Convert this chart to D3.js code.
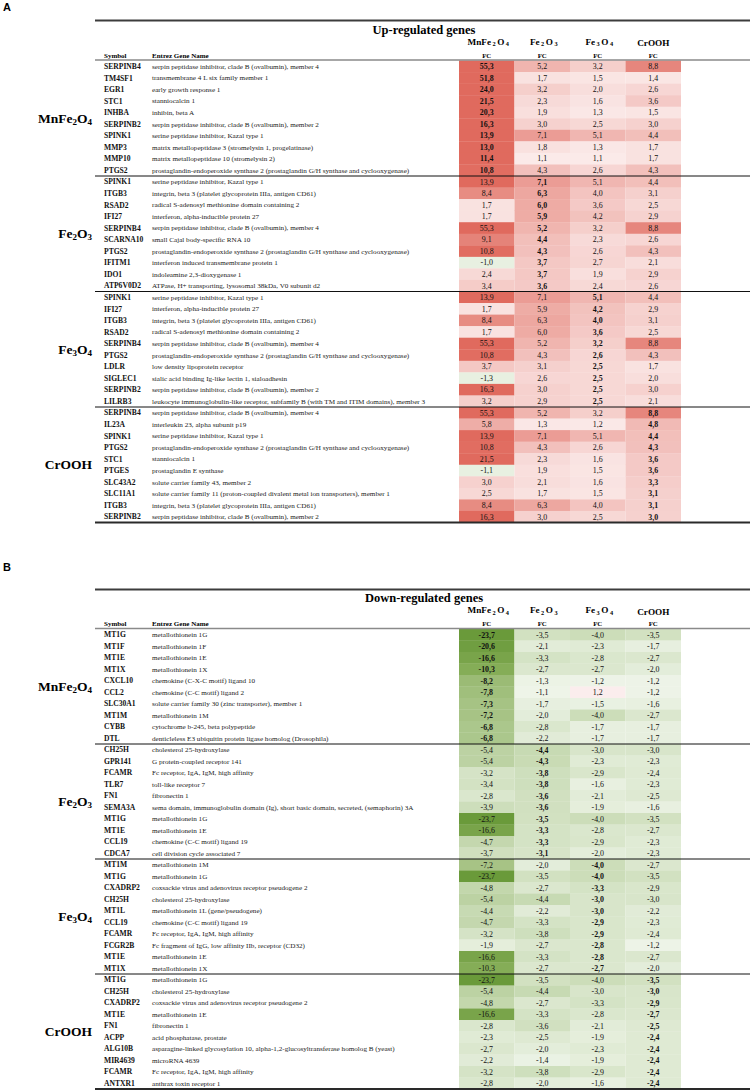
<!DOCTYPE html>
<html><head><meta charset="utf-8">
<script src="https://cdn.jsdelivr.net/npm/d3@7"></script>
<style>body{margin:0;background:#fff}svg{display:block}</style>
</head><body>
<script>
// ---------- DATA ----------
const compounds = ["MnFe2O4","Fe2O3","Fe3O4","CrOOH"];
const compoundParts = [[["MnFe",0],["2",1],["O",0],["4",1]],[["Fe",0],["2",1],["O",0],["3",1]],[["Fe",0],["3",1],["O",0],["4",1]],[["CrOOH",0]]];
const groupLabels = ["MnFe2O4","Fe2O3","Fe3O4","CrOOH"];
const groupSize = 10;

const geneNames = {
 SERPINB4:"serpin peptidase inhibitor, clade B (ovalbumin), member 4",
 TM4SF1:"transmembrane 4 L six family member 1",
 EGR1:"early growth response 1",
 STC1:"stanniocalcin 1",
 INHBA:"inhibin, beta A",
 SERPINB2:"serpin peptidase inhibitor, clade B (ovalbumin), member 2",
 SPINK1:"serine peptidase inhibitor, Kazal type 1",
 MMP3:"matrix metallopeptidase 3 (stromelysin 1, progelatinase)",
 MMP10:"matrix metallopeptidase 10 (stromelysin 2)",
 PTGS2:"prostaglandin-endoperoxide synthase 2 (prostaglandin G/H synthase and cyclooxygenase)",
 ITGB3:"integrin, beta 3 (platelet glycoprotein IIIa, antigen CD61)",
 RSAD2:"radical S-adenosyl methionine domain containing 2",
 IFI27:"interferon, alpha-inducible protein 27",
 SCARNA10:"small Cajal body-specific RNA 10",
 IFITM1:"interferon induced transmembrane protein 1",
 IDO1:"indoleamine 2,3-dioxygenase 1",
 ATP6V0D2:"ATPase, H+ transporting, lysosomal 38kDa, V0 subunit d2",
 LDLR:"low density lipoprotein receptor",
 SIGLEC1:"sialic acid binding Ig-like lectin 1, sialoadhesin",
 LILRB3:"leukocyte immunoglobulin-like receptor, subfamily B (with TM and ITIM domains), member 3",
 IL23A:"interleukin 23, alpha subunit p19",
 PTGES:"prostaglandin E synthase",
 SLC43A2:"solute carrier family 43, member 2",
 SLC11A1:"solute carrier family 11 (proton-coupled divalent metal ion transporters), member 1",
 MT1G:"metallothionein 1G",
 MT1F:"metallothionein 1F",
 MT1E:"metallothionein 1E",
 MT1X:"metallothionein 1X",
 CXCL10:"chemokine (C-X-C motif) ligand 10",
 CCL2:"chemokine (C-C motif) ligand 2",
 SLC30A1:"solute carrier family 30 (zinc transporter), member 1",
 MT1M:"metallothionein 1M",
 CYBB:"cytochrome b-245, beta polypeptide",
 DTL:"denticleless E3 ubiquitin protein ligase homolog (Drosophila)",
 CH25H:"cholesterol 25-hydroxylase",
 GPR141:"G protein-coupled receptor 141",
 FCAMR:"Fc receptor, IgA, IgM, high affinity",
 TLR7:"toll-like receptor 7",
 FN1:"fibronectin 1",
 SEMA3A:"sema domain, immunoglobulin domain (Ig), short basic domain, secreted, (semaphorin) 3A",
 CCL19:"chemokine (C-C motif) ligand 19",
 CDCA7:"cell division cycle associated 7",
 CXADRP2:"coxsackie virus and adenovirus receptor pseudogene 2",
 MT1L:"metallothionein 1L (gene/pseudogene)",
 FCGR2B:"Fc fragment of IgG, low affinity IIb, receptor (CD32)",
 ACPP:"acid phosphatase, prostate",
 ALG10B:"asparagine-linked glycosylation 10, alpha-1,2-glucosyltransferase homolog B (yeast)",
 MIR4639:"microRNA 4639",
 ANTXR1:"anthrax toxin receptor 1"
};

const upSymbols = ["SERPINB4","TM4SF1","EGR1","STC1","INHBA","SERPINB2","SPINK1","MMP3","MMP10","PTGS2",
 "SPINK1","ITGB3","RSAD2","IFI27","SERPINB4","SCARNA10","PTGS2","IFITM1","IDO1","ATP6V0D2",
 "SPINK1","IFI27","ITGB3","RSAD2","SERPINB4","PTGS2","LDLR","SIGLEC1","SERPINB2","LILRB3",
 "SERPINB4","IL23A","SPINK1","PTGS2","STC1","PTGES","SLC43A2","SLC11A1","ITGB3","SERPINB2"];
const upMnFe2O4 = [55.3,51.8,24.0,21.5,20.3,16.3,13.9,13.0,11.4,10.8, 13.9,8.4,1.7,1.7,55.3,9.1,10.8,-1.0,2.4,3.4, 13.9,1.7,8.4,1.7,55.3,10.8,3.7,-1.3,16.3,3.2, 55.3,5.8,13.9,10.8,21.5,-1.1,3.0,2.5,8.4,16.3];
const upFe2O3   = [5.2,1.7,3.2,2.3,1.9,3.0,7.1,1.8,1.1,4.3, 7.1,6.3,6.0,5.9,5.2,4.4,4.3,3.7,3.7,3.6, 7.1,5.9,6.3,6.0,5.2,4.3,3.1,2.6,3.0,2.9, 5.2,1.3,7.1,4.3,2.3,1.9,2.1,1.7,6.3,3.0];
const upFe3O4   = [3.2,1.5,2.0,1.6,1.3,2.5,5.1,1.3,1.1,2.6, 5.1,4.0,3.6,4.2,3.2,2.3,2.6,2.7,1.9,2.4, 5.1,4.2,4.0,3.6,3.2,2.6,2.5,2.5,2.5,2.5, 3.2,1.2,5.1,2.6,1.6,1.5,1.6,1.5,4.0,2.5];
const upCrOOH   = [8.8,1.4,2.6,3.6,1.5,3.0,4.4,1.7,1.7,4.3, 4.4,3.1,2.5,2.9,8.8,2.6,4.3,2.1,2.9,2.6, 4.4,2.9,3.1,2.5,8.8,4.3,1.7,2.0,3.0,2.1, 8.8,4.8,4.4,4.3,3.6,3.6,3.3,3.1,3.1,3.0];

const downSymbols = ["MT1G","MT1F","MT1E","MT1X","CXCL10","CCL2","SLC30A1","MT1M","CYBB","DTL",
 "CH25H","GPR141","FCAMR","TLR7","FN1","SEMA3A","MT1G","MT1E","CCL19","CDCA7",
 "MT1M","MT1G","CXADRP2","CH25H","MT1L","CCL19","FCAMR","FCGR2B","MT1E","MT1X",
 "MT1G","CH25H","CXADRP2","MT1E","FN1","ACPP","ALG10B","MIR4639","FCAMR","ANTXR1"];
const downMnFe2O4 = [-23.7,-20.6,-16.6,-10.3,-8.2,-7.8,-7.3,-7.2,-6.8,-6.8, -5.4,-5.4,-3.2,-3.4,-2.8,-3.9,-23.7,-16.6,-4.7,-3.7, -7.2,-23.7,-4.8,-5.4,-4.4,-4.7,-3.2,-1.9,-16.6,-10.3, -23.7,-5.4,-4.8,-16.6,-2.8,-2.3,-2.7,-2.2,-3.2,-2.8];
const downFe2O3   = [-3.5,-2.1,-3.3,-2.7,-1.3,-1.1,-1.7,-2.0,-2.8,-2.2, -4.4,-4.3,-3.8,-3.8,-3.6,-3.6,-3.5,-3.3,-3.3,-3.1, -2.0,-3.5,-2.7,-4.4,-2.2,-3.3,-3.8,-2.7,-3.3,-2.7, -3.5,-4.4,-2.7,-3.3,-3.6,-2.5,-2.0,-1.4,-3.8,-2.0];
const downFe3O4   = [-4.0,-2.3,-2.8,-2.7,-1.2,1.2,-1.5,-4.0,-1.7,-1.7, -3.0,-2.3,-2.9,-1.6,-2.1,-1.9,-4.0,-2.8,-2.9,-2.0, -4.0,-4.0,-3.3,-3.0,-3.0,-2.9,-2.9,-2.8,-2.8,-2.7, -4.0,-3.0,-3.3,-2.8,-2.1,-1.9,-2.3,-1.9,-2.9,-1.6];
const downCrOOH   = [-3.5,-1.7,-2.7,-2.0,-1.2,-1.2,-1.6,-2.7,-1.7,-1.7, -3.0,-2.3,-2.4,-2.3,-2.5,-1.6,-3.5,-2.7,-2.3,-2.3, -2.7,-3.5,-2.9,-3.0,-2.2,-2.3,-2.4,-1.2,-2.7,-2.0, -3.5,-3.0,-2.9,-2.7,-2.5,-2.4,-2.4,-2.4,-2.4,-2.4];

// ---------- DRAW ----------
const W = 750, H = 1091;
const svg = d3.select("body").append("svg").attr("width", W).attr("height", H);
const serif = "'Liberation Serif', 'DejaVu Serif', serif";

const upRed = d3.scaleLinear().domain([1, 11]).range(["#fbebea", "#e06a5e"]).clamp(true);
const downGreen = d3.scaleLinear().domain([-23.7, -10, -1]).range(["#6a9a3a", "#86ad58", "#eff5ea"]).clamp(true);
function upColor(v){ return v < 0 ? "#e8f0e1" : upRed(v); }
function downColor(v){ return v > 0 ? "#fbeded" : downGreen(v); }
const fmt = v => v.toFixed(1).replace(".", ",");

function drawTable(cfg){
  const g = svg.append("g");
  const x = d3.scaleBand().domain(compounds).range([459, 681]);
  const nRows = cfg.symbols.length;
  const y = d3.scaleBand().domain(d3.range(nRows)).range([cfg.rowTop, cfg.rowTop + nRows * cfg.rowH]);
  const cols = [cfg.v0, cfg.v1, cfg.v2, cfg.v3];

  // panel letter
  g.append("text").attr("x", 3).attr("y", cfg.letterY).attr("font-family", "'Liberation Sans', Arial, sans-serif")
    .attr("font-weight", "bold").attr("font-size", 11).text(cfg.letter);

  // cells
  const cells = [];
  cols.forEach((arr, ci) => arr.forEach((v, ri) => cells.push({ci, ri, v})));
  g.selectAll("rect.cell").data(cells).join("rect").attr("class", "cell")
    .attr("x", d => x(compounds[d.ci])).attr("y", d => y(d.ri))
    .attr("width", x.bandwidth()).attr("height", y.bandwidth() + 0.3)
    .attr("fill", d => cfg.color(d.v));
  g.selectAll("text.val").data(cells).join("text").attr("class", "val")
    .attr("x", d => x(compounds[d.ci]) + x.bandwidth() / 2)
    .attr("y", d => y(d.ri) + y.bandwidth() / 2 + 2.8)
    .attr("text-anchor", "middle").attr("font-family", serif).attr("font-size", 7.9)
    .attr("font-weight", d => Math.floor(d.ri / groupSize) === d.ci ? "bold" : "normal")
    .attr("fill", "#111").text(d => fmt(d.v));

  // symbols & names
  g.selectAll("text.sym").data(cfg.symbols).join("text").attr("class", "sym")
    .attr("x", 104).attr("y", (d, i) => y(i) + y.bandwidth() / 2 + 2.7)
    .attr("font-family", serif).attr("font-weight", "bold").attr("font-size", 7.6).attr("fill", "#111").text(d => d);
  g.selectAll("text.nm").data(cfg.symbols).join("text").attr("class", "nm")
    .attr("x", 152).attr("y", (d, i) => y(i) + y.bandwidth() / 2 + 2.5)
    .attr("font-family", serif).attr("font-size", 7.15).attr("fill", "#222").text(d => geneNames[d]);

  // headers
  g.append("text").attr("x", 424).attr("y", cfg.titleY).attr("text-anchor", "middle")
    .attr("font-family", serif).attr("font-weight", "bold").attr("font-size", 12.5).text(cfg.title);
  compounds.forEach((c, ci) => {
    const t = g.append("text").attr("x", x(c) + x.bandwidth() / 2).attr("y", cfg.compY).attr("text-anchor", "middle")
      .attr("font-family", serif).attr("font-weight", "bold").attr("font-size", 9.2);
    compoundParts[ci].forEach(([s, sub]) => {
      if (sub) t.append("tspan").attr("font-size", 6.3).attr("dx", 1.5).attr("dy", 1.5).text(s);
      else t.append("tspan").attr("dx", ci === 3 ? 0 : 1.5).attr("dy", ci === 3 ? 0 : -1.5).text(s);
    });
    g.append("text").attr("x", x(c) + x.bandwidth() / 2).attr("y", cfg.fcY).attr("text-anchor", "middle")
      .attr("font-family", serif).attr("font-weight", "bold").attr("font-size", 6.8).text("FC");
  });
  g.append("text").attr("x", 104).attr("y", cfg.fcY).attr("font-family", serif).attr("font-weight", "bold").attr("font-size", 7).text("Symbol");
  g.append("text").attr("x", 152).attr("y", cfg.fcY).attr("font-family", serif).attr("font-weight", "bold").attr("font-size", 7).text("Entrez Gene Name");

  // group labels
  groupLabels.forEach((lab, gi) => {
    const cy = y(gi * groupSize) + y.bandwidth() * groupSize / 2;
    const t = g.append("text").attr("x", 92).attr("y", cy + 4.5).attr("text-anchor", "end")
      .attr("font-family", serif).attr("font-weight", "bold").attr("font-size", 13.5);
    const parts = compoundParts[compounds.indexOf(lab)];
    parts.forEach(([s, sub], k) => {
      if (sub) t.append("tspan").attr("font-size", 9).attr("dy", 2.2).text(s);
      else t.append("tspan").attr("dy", k === 0 ? 0 : -2.2).text(s);
    });
  });

  // rules
  const x0 = 95, x1 = 750;
  g.append("line").attr("x1", x0).attr("x2", x1).attr("y1", cfg.topLine).attr("y2", cfg.topLine).attr("stroke", "#3c3c3c").attr("stroke-width", 2);
  g.append("line").attr("x1", x0).attr("x2", x1).attr("y1", cfg.rowTop - 0.5).attr("y2", cfg.rowTop - 0.5).attr("stroke", "#8a8a8a").attr("stroke-width", 1.6);
  for (let gi = 1; gi < groupLabels.length; gi++) {
    const yy = y(gi * groupSize);
    g.append("line").attr("x1", x0).attr("x2", x1).attr("y1", yy).attr("y2", yy).attr("stroke", "#111").attr("stroke-width", 1);
  }
  const yb = cfg.rowTop + nRows * cfg.rowH;
  g.append("line").attr("x1", x0).attr("x2", x1).attr("y1", yb).attr("y2", yb).attr("stroke", "#2a2a2a").attr("stroke-width", 2.2);
}

drawTable({letter: "A", letterY: 11, title: "Up-regulated genes", titleY: 34, compY: 46, fcY: 57.5,
  topLine: 20.5, rowTop: 60.5, rowH: 11.55, symbols: upSymbols,
  v0: upMnFe2O4, v1: upFe2O3, v2: upFe3O4, v3: upCrOOH, color: upColor});
drawTable({letter: "B", letterY: 571, title: "Down-regulated genes", titleY: 602, compY: 614.5, fcY: 626,
  topLine: 589.5, rowTop: 629, rowH: 11.5, symbols: downSymbols,
  v0: downMnFe2O4, v1: downFe2O3, v2: downFe3O4, v3: downCrOOH, color: downColor});
</script>
</body></html>
